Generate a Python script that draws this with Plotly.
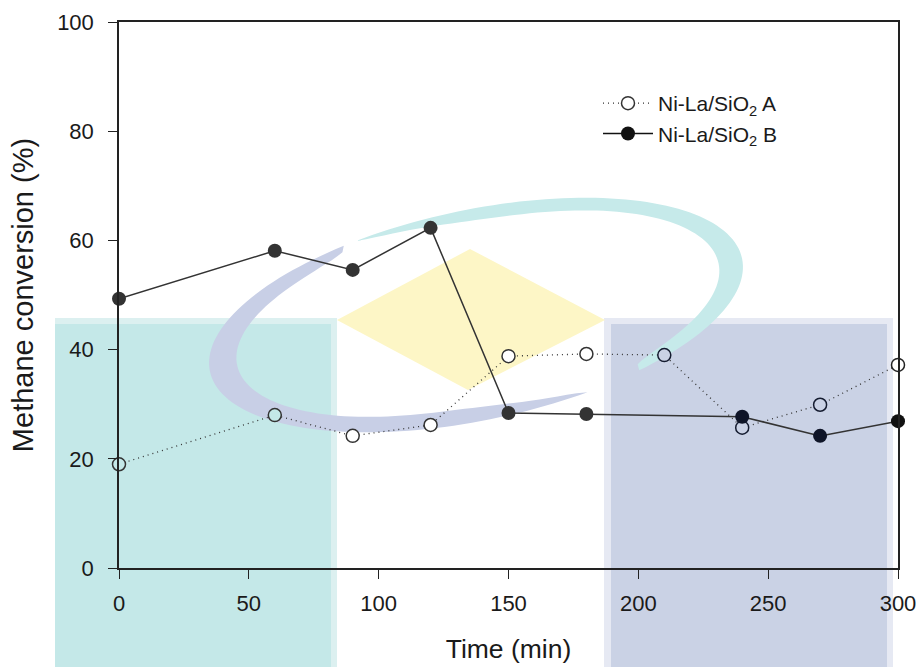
import numpy as np
import plotly.graph_objects as go

# ---------------- data ----------------
time_min = [0, 60, 90, 120, 150, 180, 210, 240, 270, 300]
conv_A = [19.0, 28.0, 24.2, 26.2, 38.8, 39.2, 39.0, 25.7, 29.9, 37.2]
time_B = [0, 60, 90, 120, 150, 180, 240, 270, 300]
conv_B = [49.3, 58.1, 54.6, 62.3, 28.4, 28.2, 27.7, 24.2, 26.9]
name_A = "Ni-La/SiO<sub>2</sub> A"
name_B = "Ni-La/SiO<sub>2</sub> B"
x_ticks = [0, 50, 100, 150, 200, 250, 300]
y_ticks = [0, 20, 40, 60, 80, 100]

# ---------------- layout geometry (pixels) ----------------
W, H = 920, 667
L, R, T, B = 119, 22, 22, 99
PW, PH = W - L - R, H - T - B


def px(x):
    return (x - L) / PW


def py(y):
    return (H - B - y) / PH


def poly_path(pts):
    return "M " + " L ".join(f"{px(x):.5f},{py(y):.5f}" for x, y in pts) + " Z"


shapes = []


def rect(x0, y0, x1, y1, color):
    shapes.append(dict(type="rect", xref="paper", yref="paper", layer="below",
                       x0=px(x0), x1=px(x1), y0=py(y1), y1=py(y0),
                       fillcolor=color, line=dict(width=0)))


# watermark background (logo)
rect(55, 318, 337, 667, "#dcf0f0")
rect(55, 324, 331, 667, "#c4e8e8")
rect(604, 318, 893, 667, "#e6e9f3")
rect(611, 324, 887, 667, "#cad2e5")
shapes.append(dict(type="path", xref="paper", yref="paper", layer="below",
                   path=poly_path([(337, 320), (470, 249), (605, 320), (468, 390)]),
                   fillcolor="#fdf6c6", line=dict(width=0)))

cx, cy, ea, eb, rot = 476, 315, 272, 105, np.radians(12)


def crescent(t0, t1, wmax, upeak, color):
    ts = np.radians(np.linspace(t0, t1, 90))
    u = (ts - ts[0]) / (ts[-1] - ts[0])
    p = np.log(0.5) / np.log(upeak)
    w = wmax * np.sin(np.pi * np.clip(u, 0, 1) ** p) ** 0.6
    xo = ea * np.cos(ts) * np.cos(rot) - eb * np.sin(ts) * np.sin(rot)
    yo = ea * np.cos(ts) * np.sin(rot) + eb * np.sin(ts) * np.cos(rot)
    r = np.hypot(xo, yo)
    xi, yi = xo * (1 - w / r), yo * (1 - w / r)
    outer = [(cx + a, cy - b) for a, b in zip(xo, yo)]
    inner = [(cx + a, cy - b) for a, b in zip(xi, yi)][::-1]
    shapes.append(dict(type="path", xref="paper", yref="paper", layer="below",
                       path=poly_path(outer + inner), fillcolor=color,
                       line=dict(width=0)))


crescent(-57, 112, 24, 0.33, "#c6eaea")
crescent(115, 290, 28, 0.40, "#c8cfe6")

# ---------------- traces ----------------
ink = "#333333"
fill_A = ["#c4e8e8", "#c4e8e8", "#ffffff", "#ffffff", "#ffffff",
          "#ffffff", "#cad2e5", "#cad2e5", "#cad2e5", "#ffffff"]
edge_A = [ink] * 6 + ["#151c30", "#151c30", "#151c30", "#222222"]
fill_B = [ink] * 6 + ["#0f1528", "#0f1528", "#111111"]
dot_line = dict(color=ink, width=1.3, dash="1px,4px")
solid_line = dict(color=ink, width=1.5)

fig = go.Figure()
fig.add_trace(go.Scatter(
    x=time_min, y=conv_A, name=name_A, mode="lines+markers", showlegend=False,
    line=dot_line,
    marker=dict(symbol="circle", size=13, color=fill_A,
                line=dict(color=edge_A, width=1.5)),
    cliponaxis=False))
fig.add_trace(go.Scatter(
    x=time_B, y=conv_B, name=name_B, mode="lines+markers", showlegend=False,
    line=solid_line,
    marker=dict(symbol="circle", size=14, color=fill_B, line=dict(width=0)),
    cliponaxis=False))
# legend entries
fig.add_trace(go.Scatter(
    x=[None], y=[None], name=name_A, mode="lines+markers", line=dot_line,
    marker=dict(symbol="circle", size=13, color="white",
                line=dict(color=ink, width=1.5))))
fig.add_trace(go.Scatter(
    x=[None], y=[None], name=name_B, mode="lines+markers",
    line=dict(color="#111111", width=1.5),
    marker=dict(symbol="circle", size=14, color="#111111", line=dict(width=0))))

font = "Liberation Sans, Arial, sans-serif"
axis_common = dict(showgrid=False, zeroline=False, showline=True, mirror=True,
                   automargin=False,
                   linecolor="#222222", linewidth=1.5, ticks="outside",
                   ticklen=9, tickwidth=1.2, tickcolor="#222222",
                   tickfont=dict(family=font, size=22, color="#1a1a1a"))

fig.update_layout(
    width=W, height=H,
    margin=dict(l=L, r=R, t=T, b=B, pad=0),
    paper_bgcolor="white", plot_bgcolor="rgba(0,0,0,0)",
    shapes=shapes,
    showlegend=True,
    legend=dict(x=px(598), y=py(83), xanchor="left", yanchor="top",
                bgcolor="rgba(0,0,0,0)", borderwidth=0,
                font=dict(family=font, size=21, color="#1a1a1a"),
                tracegroupgap=0, itemwidth=50),
    xaxis=dict(range=[0, 300], tickvals=x_ticks,
               ticktext=[str(v) for v in x_ticks],
               title=dict(text="Time (min)", standoff=24,
                          font=dict(family=font, size=26.5, color="#1a1a1a")),
               ticklabelstandoff=6, **axis_common),
    yaxis=dict(range=[0, 100], tickvals=y_ticks,
               ticktext=[str(v) for v in y_ticks],
               title=dict(text="Methane conversion (%)", standoff=15,
                          font=dict(family=font, size=29, color="#1a1a1a")),
               ticklabelstandoff=10, **axis_common),
)

fig.write_html("out.html")
